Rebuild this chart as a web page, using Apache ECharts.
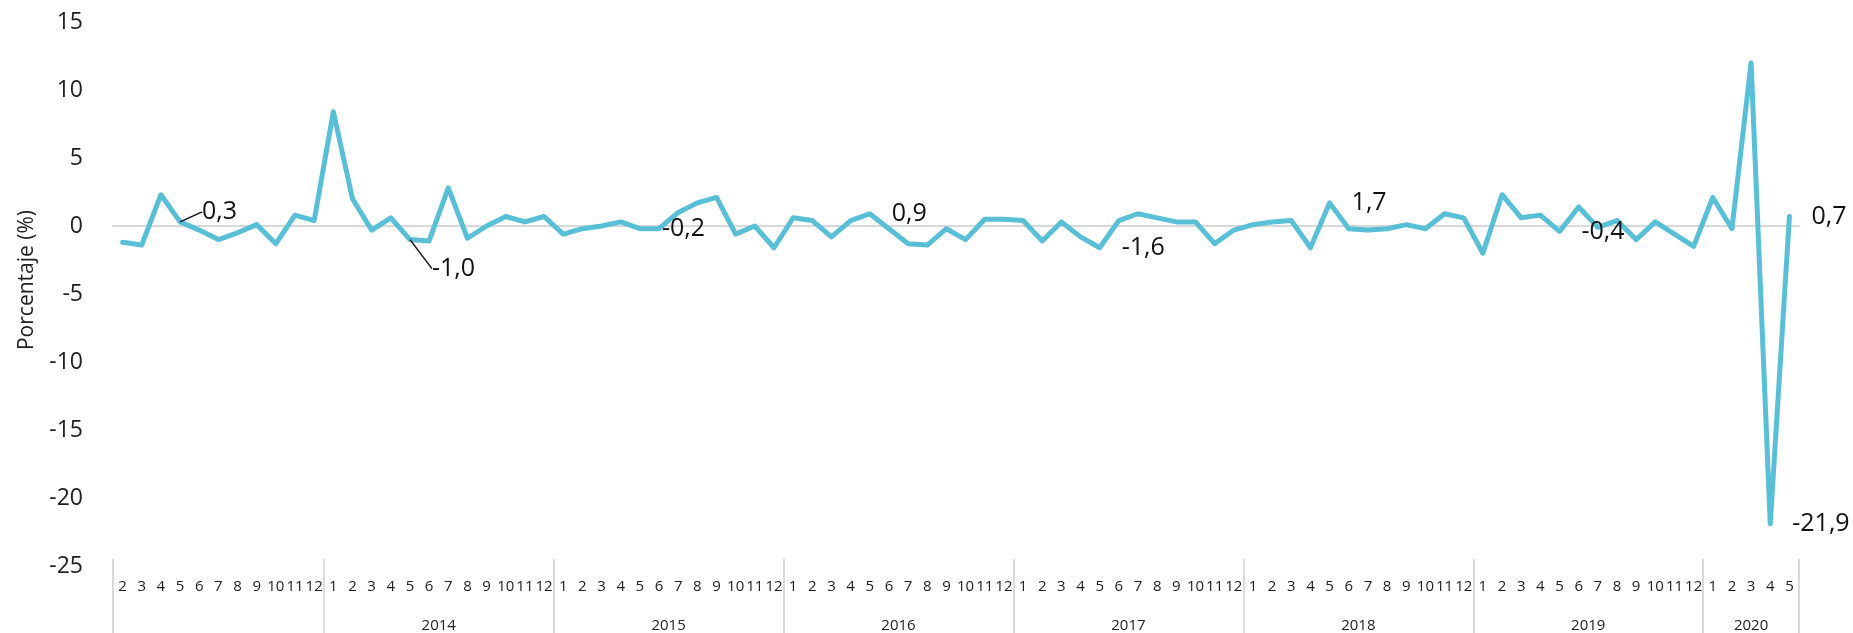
<!DOCTYPE html>
<html>
<head>
<meta charset="utf-8">
<script src="https://cdn.jsdelivr.net/npm/echarts@6/dist/echarts.min.js"></script>
<style>
html,body{margin:0;padding:0;background:#fff;}
#chart{width:1853px;height:633px;}
</style>
</head>
<body>
<div id="chart"></div>
<script>
// Month labels (Feb 2013 .. May 2020)
const months = ['2','3','4','5','6','7','8','9','10','11','12',
  '1','2','3','4','5','6','7','8','9','10','11','12',
  '1','2','3','4','5','6','7','8','9','10','11','12',
  '1','2','3','4','5','6','7','8','9','10','11','12',
  '1','2','3','4','5','6','7','8','9','10','11','12',
  '1','2','3','4','5','6','7','8','9','10','11','12',
  '1','2','3','4','5','6','7','8','9','10','11','12',
  '1','2','3','4','5'];
// Year group labels and their boundaries (in category units)
const yearLabels = ['', '2014', '2015', '2016', '2017', '2018', '2019', '2020'];
const yearBounds = [0, 11, 23, 35, 47, 59, 71, 83, 88];
// Monthly variation (%)
const values = [
  -1.2, -1.4, 2.3, 0.3, -0.3, -1.0, -0.5, 0.1, -1.3, 0.8, 0.4,
  8.4, 2.0, -0.3, 0.6, -1.0, -1.1, 2.8, -0.9, 0.0, 0.7, 0.3, 0.7,
  -0.6, -0.2, 0.0, 0.3, -0.2, -0.2, 1.0, 1.7, 2.1, -0.6, 0.0, -1.6,
  0.6, 0.4, -0.8, 0.4, 0.9, -0.2, -1.3, -1.4, -0.2, -1.0, 0.5, 0.5,
  0.4, -1.1, 0.3, -0.8, -1.6, 0.4, 0.9, 0.6, 0.3, 0.3, -1.3, -0.3,
  0.1, 0.3, 0.4, -1.6, 1.7, -0.2, -0.3, -0.2, 0.1, -0.2, 0.9, 0.6,
  -2.0, 2.3, 0.6, 0.8, -0.4, 1.4, -0.1, 0.4, -1.0, 0.3, -0.6, -1.5,
  2.1, -0.2, 12.0, -21.9, 0.7
];
// Indices of points carrying a data label
const labelIdx = [3, 15, 27, 39, 51, 63, 75, 86, 87];
const leaderIdx = [3, 15];

const yearCenters = yearLabels.map((_, i) => (yearBounds[i] + yearBounds[i + 1]) / 2);
const FONT = '"Open Sans", "Noto Sans", sans-serif';

const seriesData = values.map((v, i) => {
  if (labelIdx.indexOf(i) < 0) return v;
  const item = { value: v, label: { show: true } };
  if (leaderIdx.indexOf(i) >= 0) item.labelLine = { show: true };
  return item;
});

const chart = echarts.init(document.getElementById('chart'), null, { renderer: 'canvas' });
chart.setOption({
  animation: false,
  backgroundColor: '#fff',
  grid: { left: 113, right: 54, top: 22, bottom: 67, containLabel: false },
  xAxis: [
    {
      type: 'category', data: months, boundaryGap: true,
      axisLine: { show: true, onZero: true, lineStyle: { color: '#d9d9d9', width: 2 } },
      axisTick: { show: false }, axisLabel: { show: false }, splitLine: { show: false }
    },
    {
      type: 'value', min: 0, max: 88, position: 'bottom', offset: -7,
      axisLine: { show: false },
      axisTick: { show: true, customValues: yearBounds, length: 80, inside: false,
        lineStyle: { color: '#d9d9d9', width: 2 } },
      axisLabel: {
        show: true, customValues: yearCenters, margin: 59,
        fontFamily: FONT, fontSize: 15, color: '#222',
        formatter: (v) => { const k = yearCenters.indexOf(v); return k >= 0 ? yearLabels[k] : ''; }
      },
      splitLine: { show: false }
    },
    {
      type: 'category', data: months, boundaryGap: true, position: 'bottom',
      axisLine: { show: false, onZero: false }, axisTick: { show: false },
      axisLabel: { interval: 0, margin: 13, fontFamily: FONT, fontSize: 15, color: '#222' },
      splitLine: { show: false }
    }
  ],
  yAxis: {
    type: 'value', min: -25, max: 15, interval: 5,
    name: 'Porcentaje (%)', nameLocation: 'middle', nameGap: 75, nameRotate: 90,
    nameTextStyle: { fontFamily: FONT, fontSize: 21, color: '#222', padding: [0, 0, 0, 28] },
    axisLine: { show: false }, axisTick: { show: false }, splitLine: { show: false },
    axisLabel: { margin: 30, fontFamily: FONT, fontSize: 23, color: '#222' }
  },
  series: [{
    type: 'line', xAxisIndex: 0, yAxisIndex: 0,
    data: seriesData,
    symbol: 'circle', symbolSize: 0, showSymbol: true,
    itemStyle: { color: 'rgba(88,191,215,0)' },
    lineStyle: { color: '#58BFD7', width: 5, join: 'round', cap: 'round' },
    label: {
      show: false, position: 'right', distance: 22, offset: [0, 4],
      fontFamily: FONT, fontSize: 25, color: '#111', opacity: 1,
      formatter: (p) => p.value.toFixed(1).replace('.', ',')
    },
    labelLine: { show: false, lineStyle: { color: '#111', width: 1.5 } },
    labelLayout: (p) => {
      if (p.dataIndex === 3) return { dy: -10 };
      if (p.dataIndex === 15) return { dy: 29 };
      return {};
    },
    z: 3
  }]
});
</script>
</body>
</html>
